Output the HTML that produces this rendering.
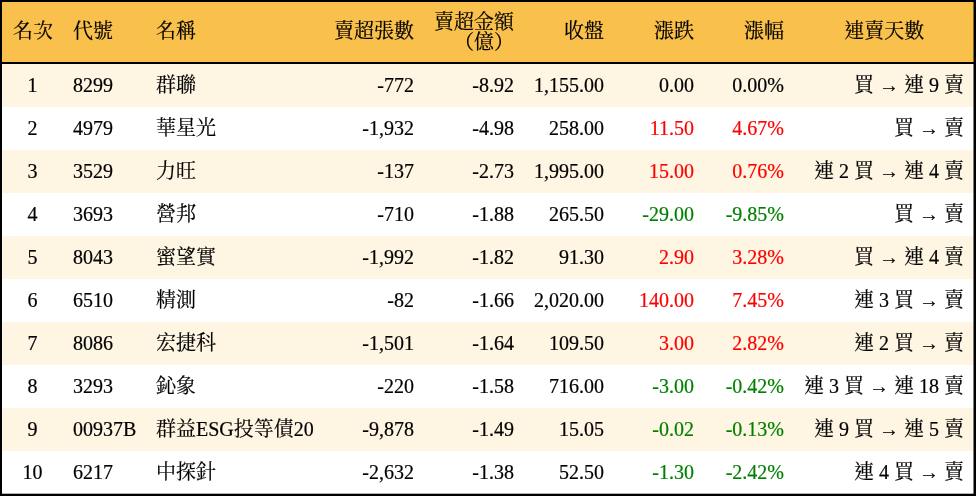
<!DOCTYPE html>
<html lang="zh-Hant"><head><meta charset="utf-8"><title>賣超排行</title>
<style>
html,body{margin:0;padding:0;background:#fff;}
body{-webkit-text-stroke:0.2px;width:976px;height:496px;overflow:hidden;position:relative;font-family:"Liberation Serif","Noto Serif CJK SC","Noto Sans CJK TC",serif;font-size:20px;line-height:20px;color:#000;}
.frame{will-change:transform;position:absolute;left:0;top:0;width:972px;height:492px;border:2px solid #000;overflow:hidden;}
table{border-collapse:separate;table-layout:fixed;width:972px;border-spacing:0;}
th,td{padding:0 9px 2px;font-weight:normal;white-space:nowrap;vertical-align:middle;overflow:visible;box-sizing:border-box;}
thead tr{background:#f9c04c;}
thead th{height:62px;border-bottom:2px solid #000;}
tbody td{height:43px;}
tbody tr:nth-child(odd){background:#fef5e2;}
.c1{text-align:center;}
td.c1{padding-right:10px;}
.c2,.c3{text-align:left;}
.c4,.c5,.c6,.c7,.c8{text-align:right;}
th.c9{text-align:center;padding-left:10.6px;}
td.c9{text-align:right;padding-right:10px;}
.frame::before{content:'';position:absolute;left:971px;top:0;width:1px;height:492px;background:rgba(0,0,0,.5);z-index:2;}
.frame::after{content:'';position:absolute;left:0;top:491px;width:972px;height:1px;background:rgba(0,0,0,.3);z-index:2;}
.two{position:relative;top:1px;}
.r{color:#f00;}
.g{color:#008000;}
.k{font-family:"Liberation Serif","Noto Serif CJK SC","Noto Sans CJK TC",serif;font-size:20px;}
.k.a{display:inline-block;width:20px;text-align:center;}

</style></head><body>
<div class="frame">
<table><colgroup><col style="width:62px"><col style="width:83px"><col style="width:178px"><col style="width:98px"><col style="width:100px"><col style="width:90px"><col style="width:90px"><col style="width:90px"><col style="width:181px"></colgroup>
<thead><tr><th class="c1"><span class="k">名次</span></th><th class="c2"><span class="k">代號</span></th><th class="c3"><span class="k">名稱</span></th><th class="c4"><span class="k">賣超張數</span></th><th class="c5"><div class="two"><span class="k">賣超金額</span><br><span class="k">（億）</span></div></th><th class="c6"><span class="k">收盤</span></th><th class="c7"><span class="k">漲跌</span></th><th class="c8"><span class="k">漲幅</span></th><th class="c9"><span class="k">連賣天數</span></th></tr></thead><tbody>
<tr><td class="c1">1</td><td class="c2">8299</td><td class="c3"><span class="k">群聯</span></td><td class="c4">-772</td><td class="c5">-8.92</td><td class="c6">1,155.00</td><td class="c7">0.00</td><td class="c8">0.00%</td><td class="c9"><span class="k">買</span> <span class="k a">→</span> <span class="k">連</span> 9 <span class="k">賣</span></td></tr>
<tr><td class="c1">2</td><td class="c2">4979</td><td class="c3"><span class="k">華星光</span></td><td class="c4">-1,932</td><td class="c5">-4.98</td><td class="c6">258.00</td><td class="c7 r">11.50</td><td class="c8 r">4.67%</td><td class="c9"><span class="k">買</span> <span class="k a">→</span> <span class="k">賣</span></td></tr>
<tr><td class="c1">3</td><td class="c2">3529</td><td class="c3"><span class="k">力旺</span></td><td class="c4">-137</td><td class="c5">-2.73</td><td class="c6">1,995.00</td><td class="c7 r">15.00</td><td class="c8 r">0.76%</td><td class="c9"><span class="k">連</span> 2 <span class="k">買</span> <span class="k a">→</span> <span class="k">連</span> 4 <span class="k">賣</span></td></tr>
<tr><td class="c1">4</td><td class="c2">3693</td><td class="c3"><span class="k">營邦</span></td><td class="c4">-710</td><td class="c5">-1.88</td><td class="c6">265.50</td><td class="c7 g">-29.00</td><td class="c8 g">-9.85%</td><td class="c9"><span class="k">買</span> <span class="k a">→</span> <span class="k">賣</span></td></tr>
<tr><td class="c1">5</td><td class="c2">8043</td><td class="c3"><span class="k">蜜望實</span></td><td class="c4">-1,992</td><td class="c5">-1.82</td><td class="c6">91.30</td><td class="c7 r">2.90</td><td class="c8 r">3.28%</td><td class="c9"><span class="k">買</span> <span class="k a">→</span> <span class="k">連</span> 4 <span class="k">賣</span></td></tr>
<tr><td class="c1">6</td><td class="c2">6510</td><td class="c3"><span class="k">精測</span></td><td class="c4">-82</td><td class="c5">-1.66</td><td class="c6">2,020.00</td><td class="c7 r">140.00</td><td class="c8 r">7.45%</td><td class="c9"><span class="k">連</span> 3 <span class="k">買</span> <span class="k a">→</span> <span class="k">賣</span></td></tr>
<tr><td class="c1">7</td><td class="c2">8086</td><td class="c3"><span class="k">宏捷科</span></td><td class="c4">-1,501</td><td class="c5">-1.64</td><td class="c6">109.50</td><td class="c7 r">3.00</td><td class="c8 r">2.82%</td><td class="c9"><span class="k">連</span> 2 <span class="k">買</span> <span class="k a">→</span> <span class="k">賣</span></td></tr>
<tr><td class="c1">8</td><td class="c2">3293</td><td class="c3"><span class="k">鈊象</span></td><td class="c4">-220</td><td class="c5">-1.58</td><td class="c6">716.00</td><td class="c7 g">-3.00</td><td class="c8 g">-0.42%</td><td class="c9"><span class="k">連</span> 3 <span class="k">買</span> <span class="k a">→</span> <span class="k">連</span> 18 <span class="k">賣</span></td></tr>
<tr><td class="c1">9</td><td class="c2">00937B</td><td class="c3"><span class="k">群益</span>ESG<span class="k">投等債</span>20</td><td class="c4">-9,878</td><td class="c5">-1.49</td><td class="c6">15.05</td><td class="c7 g">-0.02</td><td class="c8 g">-0.13%</td><td class="c9"><span class="k">連</span> 9 <span class="k">買</span> <span class="k a">→</span> <span class="k">連</span> 5 <span class="k">賣</span></td></tr>
<tr><td class="c1">10</td><td class="c2">6217</td><td class="c3"><span class="k">中探針</span></td><td class="c4">-2,632</td><td class="c5">-1.38</td><td class="c6">52.50</td><td class="c7 g">-1.30</td><td class="c8 g">-2.42%</td><td class="c9"><span class="k">連</span> 4 <span class="k">買</span> <span class="k a">→</span> <span class="k">賣</span></td></tr>
</tbody></table>
</div>
</body></html>
